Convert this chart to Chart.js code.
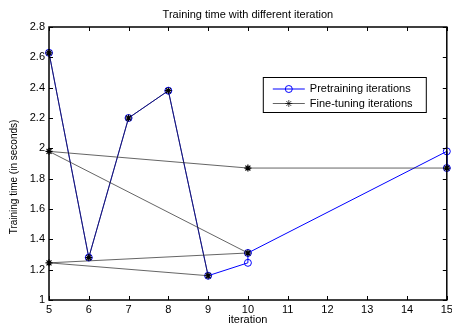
<!DOCTYPE html>
<html>
<head>
<meta charset="utf-8">
<script src="https://cdn.jsdelivr.net/npm/chart.js@4"></script>
<style>
  html, body { margin: 0; padding: 0; background: #fff; }
  #wrap { width: 452px; height: 327px; position: relative; }
</style>
</head>
<body>
<div id="wrap"><canvas id="timeChart"></canvas></div>
<script>
// ---- Data ----
const preX   = [5, 6, 7, 8, 9, 10, 10, 15, 15];
const preY   = [2.63, 1.28, 2.2, 2.38, 1.16, 1.245, 1.31, 1.98, 1.87];
const fineX  = [5, 6, 7, 8, 9, 5, 10, 5, 10, 15];
const fineY  = [2.63, 1.28, 2.2, 2.38, 1.16, 1.245, 1.31, 1.98, 1.87, 1.87];
const xTicks = [5, 6, 7, 8, 9, 10, 11, 12, 13, 14, 15];
const yTicks = [1, 1.2, 1.4, 1.6, 1.8, 2, 2.2, 2.4, 2.6, 2.8];

const titleText  = "Training time with different iteration";
const xLabelText = "iteration";
const yLabelText = "Training time (in seconds)";
const FONT = "'Liberation Sans', Arial, Helvetica, sans-serif";

const toPts = (xs, ys) => xs.map((x, i) => ({ x, y: ys[i] }));

// ---- MATLAB-ish axes box, inward ticks, y label, legend ----
const matlabAxes = {
  id: "matlabAxes",
  afterDraw(chart) {
    const { ctx, chartArea: a, scales } = chart;
    const tl = 4;
    ctx.save();
    ctx.strokeStyle = "#000";
    ctx.lineWidth = 1;
    ctx.beginPath();
    xTicks.forEach(v => {
      const px = Math.round(scales.x.getPixelForValue(v)) + 0.5;
      ctx.moveTo(px, a.bottom); ctx.lineTo(px, a.bottom - tl);
      ctx.moveTo(px, a.top);    ctx.lineTo(px, a.top + tl);
    });
    yTicks.forEach(v => {
      const py = Math.round(scales.y.getPixelForValue(v)) + 0.5;
      ctx.moveTo(a.left, py);  ctx.lineTo(a.left + tl, py);
      ctx.moveTo(a.right, py); ctx.lineTo(a.right - tl, py);
    });
    ctx.stroke();

    ctx.lineWidth = 1.5;
    ctx.strokeRect(a.left, a.top, a.right - a.left, a.bottom - a.top);

    // y axis label
    ctx.fillStyle = "#000";
    ctx.font = "10px " + FONT;
    ctx.textAlign = "center";
    ctx.textBaseline = "middle";
    ctx.translate(14, 177);
    ctx.rotate(-Math.PI / 2);
    ctx.fillText(yLabelText, 0, 0);
    ctx.restore();

    // legend
    ctx.save();
    const bx = a.right - 184, by = a.top + 50, bw = 163, bh = 35;
    ctx.fillStyle = "#fff";
    ctx.fillRect(bx, by, bw, bh);
    ctx.strokeStyle = "#000";
    ctx.lineWidth = 1;
    ctx.strokeRect(bx + 0.5, by + 0.5, bw, bh);
    chart.data.datasets.forEach((ds, i) => {
      const ly = by + 12 + i * 14.5;
      ctx.strokeStyle = ds.borderColor;
      ctx.lineWidth = ds.borderWidth;
      ctx.beginPath();
      ctx.moveTo(bx + 10, ly); ctx.lineTo(bx + 42, ly);
      ctx.stroke();
      ctx.strokeStyle = ds.pointBorderColor;
      ctx.fillStyle = ds.pointBackgroundColor;
      Chart.helpers.drawPoint(ctx, {
        pointStyle: ds.pointStyle,
        radius: ds.pointRadius,
        borderWidth: ds.pointBorderWidth,
        rotation: 0
      }, bx + 26, ly);
      ctx.fillStyle = "#000";
      ctx.font = "11px " + FONT;
      ctx.textAlign = "left";
      ctx.textBaseline = "middle";
      ctx.fillText(ds.label, bx + 47, ly);
    });
    ctx.restore();
  }
};

new Chart(document.getElementById("timeChart"), {
  type: "line",
  data: {
    datasets: [
      {
        label: "Pretraining iterations",
        data: toPts(preX, preY),
        borderColor: "#0000ff",
        borderWidth: 1,
        pointStyle: "circle",
        pointRadius: 3.5,
        pointBorderWidth: 1,
        pointBorderColor: "#0000ff",
        pointBackgroundColor: "rgba(0,0,0,0)",
        tension: 0,
        fill: false,
        clip: false,
        order: 2
      },
      {
        label: "Fine-tuning iterations",
        data: toPts(fineX, fineY),
        borderColor: "#222",
        borderWidth: 0.7,
        pointStyle: "star",
        pointRadius: 3.5,
        pointBorderWidth: 1.2,
        pointBorderColor: "#000",
        pointBackgroundColor: "#000",
        tension: 0,
        fill: false,
        clip: false,
        order: 1
      }
    ]
  },
  options: {
    responsive: true,
    maintainAspectRatio: false,
    animation: false,
    layout: { padding: { left: 0, right: 5, top: 0, bottom: 0 } },
    plugins: {
      legend: { display: false },
      tooltip: { enabled: false },
      title: {
        display: true,
        text: titleText,
        fullSize: false,
        color: "#000",
        font: { family: FONT, size: 11, weight: "normal" },
        padding: { top: 8.4, bottom: 5.4 }
      }
    },
    scales: {
      x: {
        type: "linear",
        min: 5, max: 15,
        grid: { display: false, drawTicks: false },
        border: { display: false },
        afterBuildTicks: s => { s.ticks = xTicks.map(v => ({ value: v })); },
        ticks: {
          color: "#000",
          padding: 3,
          maxRotation: 0,
          autoSkip: false,
          font: { family: FONT, size: 11 }
        },
        title: {
          display: true,
          text: xLabelText,
          color: "#000",
          font: { family: FONT, size: 11 },
          padding: { top: 0, bottom: 0 }
        },
        afterFit: s => { s.height = 27; s.paddingLeft = 0; s.paddingRight = 0; }
      },
      y: {
        type: "linear",
        min: 1, max: 2.8,
        grid: { display: false, drawTicks: false },
        border: { display: false },
        afterBuildTicks: s => { s.ticks = yTicks.map(v => ({ value: v })); },
        ticks: {
          color: "#000",
          padding: 4,
          autoSkip: false,
          font: { family: FONT, size: 11 },
          callback: v => String(Math.round(v * 10) / 10)
        },
        afterFit: s => { s.width = 49; s.paddingTop = 0; s.paddingBottom = 0; }
      }
    }
  },
  plugins: [matlabAxes]
});
</script>
</body>
</html>
